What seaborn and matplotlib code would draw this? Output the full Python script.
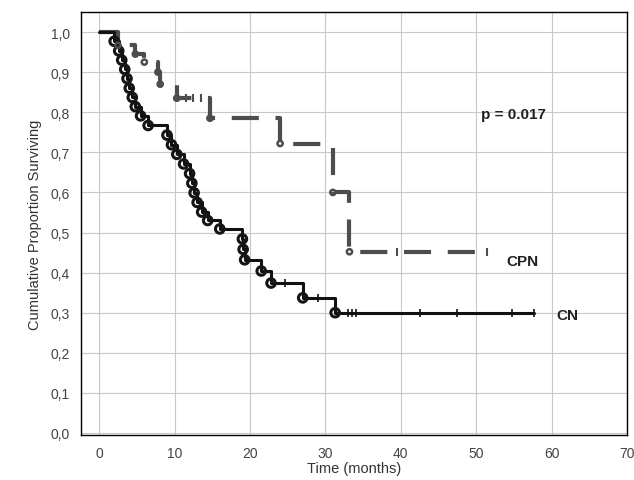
import matplotlib
matplotlib.use("Agg")
import matplotlib.pyplot as plt
import seaborn as sns
import pandas as pd

# ---- data ----
cn_times = [0, 2.0, 2.6, 3.0, 3.4, 3.7, 4.0, 4.4, 4.8, 5.5, 6.5, 9.0, 9.6, 10.3, 11.2,
            12.0, 12.3, 12.6, 13.0, 13.6, 14.4, 16.0, 19.0, 19.1, 19.3, 21.5, 22.8,
            27.0, 31.3, 57.7]
cn_surv = [1.0, 0.977, 0.953, 0.930, 0.907, 0.884, 0.860, 0.837, 0.814, 0.791, 0.767,
           0.743, 0.719, 0.695, 0.671, 0.647, 0.623, 0.599, 0.575, 0.551, 0.530, 0.509,
           0.484, 0.458, 0.432, 0.404, 0.374, 0.337, 0.300, 0.300]
cn_cens_t = [24.6, 29.0, 33.0, 33.5, 34.0, 42.5, 47.5, 54.7, 57.7]
cn_cens_s = [0.374, 0.337, 0.300, 0.300, 0.300, 0.300, 0.300, 0.300, 0.300]

cpn_times = [0, 2.5, 4.8, 6.0, 7.8, 8.1, 10.3, 14.7, 24.0, 31.0, 33.2, 51.4]
cpn_surv = [1.0, 0.967, 0.945, 0.925, 0.900, 0.870, 0.835, 0.785, 0.722, 0.600, 0.452, 0.452]
cpn_cens_t = [11.5, 12.5, 13.5, 39.5, 51.4]
cpn_cens_s = [0.835, 0.835, 0.835, 0.452, 0.452]

x_ticks = [0, 10, 20, 30, 40, 50, 60, 70]
y_ticks = [0.0, 0.1, 0.2, 0.3, 0.4, 0.5, 0.6, 0.7, 0.8, 0.9, 1.0]
y_tick_labels = ["0,0", "0,1", "0,2", "0,3", "0,4", "0,5", "0,6", "0,7", "0,8", "0,9", "1,0"]

sns.set_theme(style="white")
plt.rcParams['font.family'] = ['Liberation Sans', 'DejaVu Sans']

fig = plt.figure(figsize=(6.34, 4.81), dpi=100)
ax = fig.add_axes([81/634, 1 - 436/481, (627 - 81)/634, (436 - 13)/481])

cn = pd.DataFrame({"t": cn_times, "s": cn_surv})
cpn = pd.DataFrame({"t": cpn_times, "s": cpn_surv})

sns.lineplot(data=cpn, x="t", y="s", ax=ax, estimator=None, drawstyle="steps-post",
             color="#4d4d4d", linewidth=3.0, linestyle=(0, (6.5, 4)), zorder=3)
sns.lineplot(data=cn, x="t", y="s", ax=ax, estimator=None, drawstyle="steps-post",
             color="#111111", linewidth=2.2, zorder=4)

# event markers
sns.scatterplot(x=cn_times[1:-1], y=cn_surv[1:-1], ax=ax, marker="o", s=38,
                facecolor="none", edgecolor="#151515", linewidth=2.2, zorder=5)
sns.scatterplot(x=cpn_times[1:-1], y=cpn_surv[1:-1], ax=ax, marker="o", s=14,
                facecolor="none", edgecolor="#4d4d4d", linewidth=1.8, zorder=5)
# censored marks
sns.scatterplot(x=cn_cens_t, y=cn_cens_s, ax=ax, marker="|", s=40,
                color="#111111", linewidth=1.2, zorder=5)
sns.scatterplot(x=cpn_cens_t, y=cpn_cens_s, ax=ax, marker="|", s=30,
                color="#4d4d4d", linewidth=1.5, zorder=5)

ax.set_xlim(-2.4, 70)
ax.set_ylim(-0.005, 1.05)
ax.set_xticks(x_ticks)
ax.set_yticks(y_ticks)
ax.set_yticklabels(y_tick_labels)
ax.grid(True, color="#c8c8c8", linewidth=0.8)
ax.set_axisbelow(True)
for sp in ax.spines.values():
    sp.set_color("black")
    sp.set_linewidth(1.0)
    sp.set_visible(True)
ax.tick_params(axis="both", labelsize=10, colors="#333333", length=3, width=0.8,
               direction="out", pad=5)
ax.tick_params(axis="y", labelcolor="#444444")
ax.tick_params(axis="x", labelcolor="#444444")

ax.set_xlabel("Time (months)", fontsize=10.5, color="#333333", labelpad=1)
ax.set_ylabel("Cumulative Proportion Surviving", fontsize=10.5, color="#333333", labelpad=6)

ax.text(50.7, 0.795, "p = 0.017", fontsize=11, fontweight="bold", color="#222222",
        ha="left", va="center")
ax.text(54.0, 0.43, "CPN", fontsize=11, fontweight="bold", color="#222222",
        ha="left", va="center")
ax.text(60.7, 0.295, "CN", fontsize=11, fontweight="bold", color="#222222",
        ha="left", va="center")

fig.savefig("out.png", dpi=100)
